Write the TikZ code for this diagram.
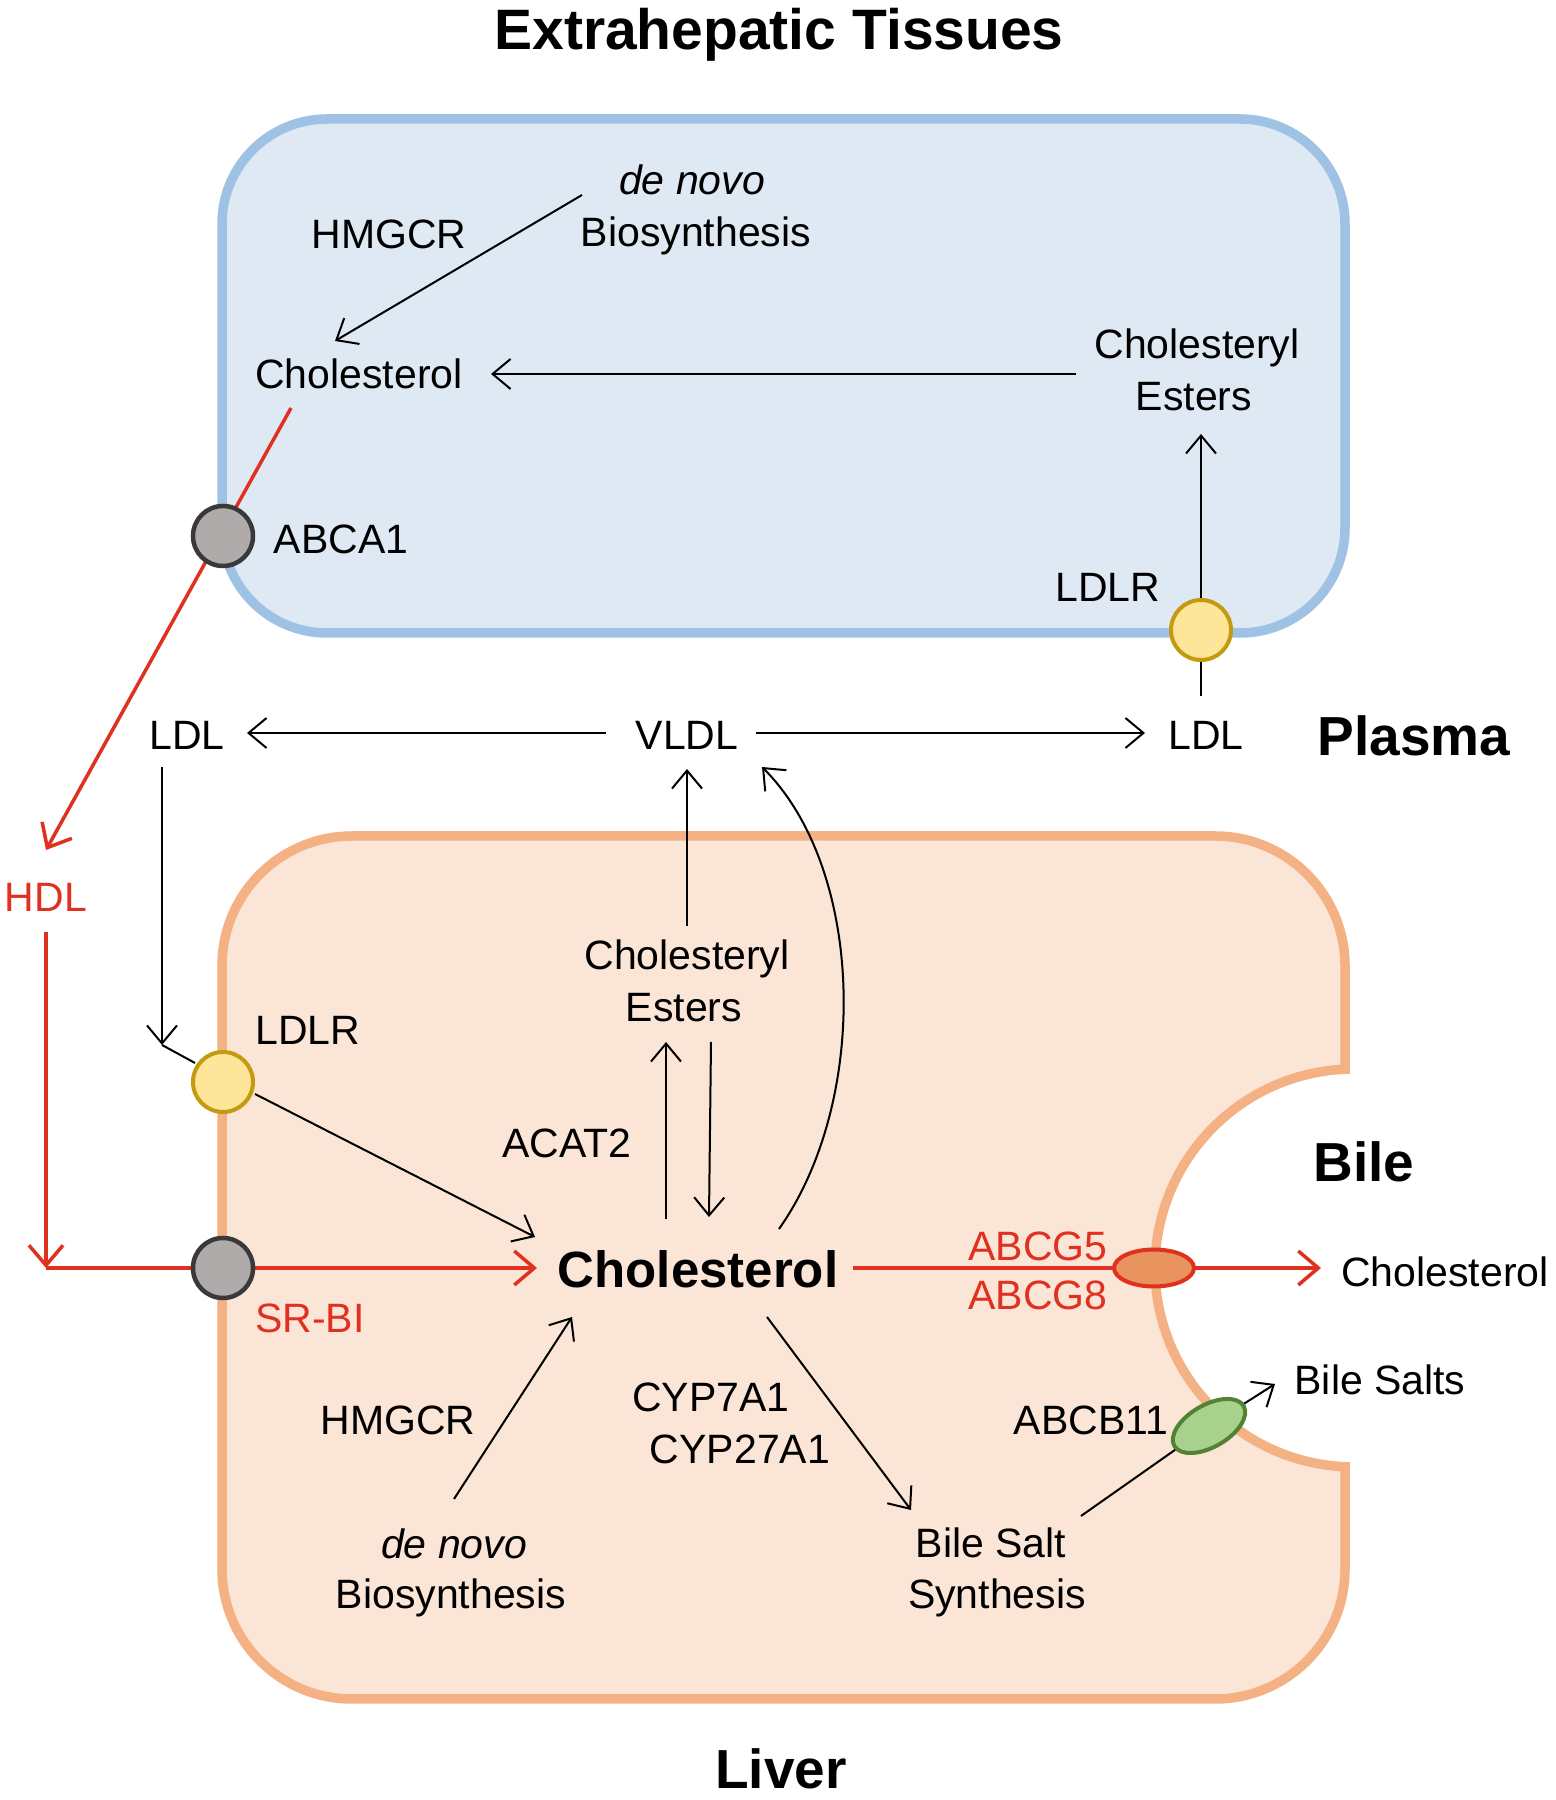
\documentclass[tikz,border=0pt]{standalone}
\usepackage{fontspec}
\setmainfont{Liberation Sans}
\usetikzlibrary{arrows.meta,shapes.geometric}
\definecolor{bluefill}{HTML}{DEE9F4}
\definecolor{bluedraw}{HTML}{9FC2E4}
\definecolor{peachfill}{HTML}{FBE5D7}
\definecolor{peachdraw}{HTML}{F4B183}
\definecolor{myred}{HTML}{E03020}
\definecolor{yelfill}{HTML}{FDE59A}
\definecolor{yeldraw}{HTML}{C49A10}
\definecolor{grayfill}{HTML}{AFABAB}
\definecolor{graydraw}{HTML}{3A3838}
\definecolor{orfill}{HTML}{E9935E}
\definecolor{grfill}{HTML}{A9D18E}
\definecolor{grdraw}{HTML}{548235}
\tikzset{
  txt/.style={font=\fontsize{41}{49}\selectfont, inner sep=0pt, text height=29.4pt, text depth=0pt},
  rtxt/.style={txt, text=myred},
  itxt/.style={txt, font=\fontsize{41}{49}\selectfont\itshape},
  hd/.style={font=\fontsize{55}{66}\selectfont\bfseries, inner sep=0pt, text height=39.4pt, text depth=0pt},
  bigtxt/.style={font=\fontsize{51}{60}\selectfont\bfseries, inner sep=0pt, text height=36.5pt, text depth=0pt},
  arr/.style={line width=2pt, -{Straight Barb[length=18pt,width=30pt,line width=2pt]}},
  bline/.style={line width=2pt},
  rarr/.style={line width=3.5pt, draw=myred, -{Straight Barb[length=20pt,width=34pt,line width=3.5pt]}},
  rline/.style={line width=3.5pt, draw=myred},
  graycirc/.style={circle, draw=graydraw, fill=grayfill, line width=4.5pt, minimum size=60pt, inner sep=0pt},
  yelcirc/.style={circle, draw=yeldraw, fill=yelfill, line width=4pt, minimum size=60pt, inner sep=0pt},
}
\begin{document}
\begin{tikzpicture}[x=1pt,y=1pt]
\useasboundingbox (0,0) rectangle (1556,1800);
\fill[white] (0,0) rectangle (1556,1800);

% compartments
\draw[line width=9.5pt, draw=bluedraw, fill=bluefill, rounded corners=105pt] (222,1167) rectangle (1345,1681);
\draw[line width=9.5pt, draw=peachdraw, fill=peachfill]
  (352,964) -- (1215,964) arc[start angle=90,end angle=0,radius=130]
  -- (1345,730.8) arc[start angle=92.6,end angle=267.4,radius=199]
  -- (1345,231) arc[start angle=0,end angle=-90,radius=130]
  -- (352,101) arc[start angle=270,end angle=180,radius=130]
  -- (222,834) arc[start angle=180,end angle=90,radius=130] -- cycle;

% headings
\node[hd, font=\fontsize{57}{68}\selectfont\bfseries, text height=40.8pt] (title) at (779,1771) {Extrahepatic Tissues};
\node[hd] (plasma) at (1414,1064) {Plasma};
\node[hd] (bile) at (1364,638) {Bile};
\node[hd] (liver) at (781,31) {Liver};

% top box texts
\node[itxt] (dn1) at (692,1620) {de novo};
\node[txt] (bios1) at (696,1568) {Biosynthesis};
\node[txt] (hmgcr1) at (389,1566) {HMGCR};
\node[txt] (chol1) at (359,1426) {Cholesterol};
\node[txt] (ce1a) at (1197,1456) {Cholesteryl};
\node[txt] (ce1b) at (1194,1404) {Esters};
\node[txt] (abca1lbl) at (341,1261) {ABCA1};
\node[txt] (ldlr1lbl) at (1108,1213) {LDLR};

% plasma texts
\node[txt] (ldlL) at (187,1065) {LDL};
\node[txt] (vldl) at (687,1065) {VLDL};
\node[txt] (ldlR) at (1206,1065) {LDL};
\node[rtxt] (hdl) at (46,903) {HDL};

% liver texts
\node[txt] (ce2a) at (687,845) {Cholesteryl};
\node[txt] (ce2b) at (684,793) {Esters};
\node[txt] (ldlr2lbl) at (308,770) {LDLR};
\node[txt] (acat2) at (567,657) {ACAT2};
\node[bigtxt] (cholbig) at (698,531) {Cholesterol};
\node[rtxt] (abcg5) at (1038,554) {ABCG5};
\node[rtxt] (abcg8) at (1038,505) {ABCG8};
\node[txt] (cholR) at (1445,528) {Cholesterol};
\node[rtxt] (srbilbl) at (310,482) {SR-BI};
\node[txt] (bilesalts) at (1380,420) {Bile Salts};
\node[txt] (abcb11lbl) at (1091,380) {ABCB11};
\node[txt] (hmgcr2) at (398,380) {HMGCR};
\node[txt] (cyp7) at (711,403) {CYP7A1};
\node[txt] (cyp27) at (740,351) {CYP27A1};
\node[itxt] (dn2) at (454,256) {de novo};
\node[txt] (bios2) at (451,206) {Biosynthesis};
\node[txt] (bss1) at (991,257) {Bile Salt};
\node[txt] (bss2) at (997,206) {Synthesis};

% connector end points
\coordinate (pA1) at (582,1605);  \coordinate (pA2) at (335,1459);
\coordinate (pB1) at (1076,1426); \coordinate (pB2) at (491,1426);
\coordinate (ldlr1c) at (1201,1170);
\coordinate (pC1) at (1201,1202); \coordinate (pC2) at (1201,1366);
\coordinate (pD1) at (1201,1104); \coordinate (pD2) at (1201,1140);
\coordinate (pE1) at (291,1392);  \coordinate (pE2) at (46,950);
\coordinate (pF1) at (606,1067);  \coordinate (pF2) at (247,1067);
\coordinate (pG1) at (756,1067);  \coordinate (pG2) at (1145,1067);
\coordinate (pH1) at (162,1033);  \coordinate (pH2) at (162,755);
\coordinate (pH3) at (195,737);
\coordinate (pI1) at (255,706);   \coordinate (pI2) at (535,563);
\coordinate (pJ1) at (46,868);    \coordinate (pJ2) at (46,532);
\coordinate (pJ3) at (537,532);
\coordinate (pK1) at (687,874);   \coordinate (pK2) at (687,1031);
\coordinate (pL1) at (666,581);   \coordinate (pL2) at (666,758);
\coordinate (pM1) at (711,758);   \coordinate (pM2) at (709,583);
\coordinate (pN1) at (779,571);   \coordinate (pN2) at (762,1033);
\coordinate (pO1) at (454,301);   \coordinate (pO2) at (572,483);
\coordinate (pP1) at (767,483);   \coordinate (pP2) at (911,290);
\coordinate (pQ1) at (853,532);   \coordinate (pQ2) at (1321,532);
\coordinate (pR1) at (1081,284);  \coordinate (abcbc) at (1209,374);
\coordinate (pR2) at (1275,416);

% connectors
\draw[arr] (pA1) -- (pA2);
\draw[arr] (pB1) -- (pB2);
\draw[arr] (pC1) -- (pC2);
\draw[bline] (pD1) -- (pD2);
\draw[rarr] (pE1) -- (pE2);
\draw[arr] (pF1) -- (pF2);
\draw[arr] (pG1) -- (pG2);
\draw[arr] (pH1) -- (pH2);
\draw[bline] (pH2) -- (pH3);
\draw[arr] (pI1) -- (pI2);
\draw[rarr] (pJ1) -- (pJ2);
\draw[rarr] (pJ2) -- (pJ3);
\draw[arr] (pK1) -- (pK2);
\draw[arr] (pL1) -- (pL2);
\draw[arr] (pM1) -- (pM2);
\draw[arr] (pN1) .. controls (870,700) and (865,930) .. (pN2);
\draw[arr] (pO1) -- (pO2);
\draw[arr] (pP1) -- (pP2);
\draw[rarr] (pQ1) -- (pQ2);
\draw[bline] (pR1) -- (abcbc);
\draw[arr] (abcbc) -- (pR2);

% transporters
\node[graycirc] (abca1) at (223,1264) {};
\node[yelcirc] (ldlr1) at (ldlr1c) {};
\node[yelcirc] (ldlr2) at (223,718) {};
\node[graycirc] (srbi) at (223,532) {};
\node[ellipse, draw=myred, fill=orfill, line width=4pt, minimum width=80pt, minimum height=37pt, inner sep=0pt] (abcg) at (1154,532) {};
\node[ellipse, draw=grdraw, fill=grfill, line width=4pt, minimum width=80pt, minimum height=42pt, inner sep=0pt, rotate=30] (abcb11) at (abcbc) {};
\end{tikzpicture}
\end{document}
